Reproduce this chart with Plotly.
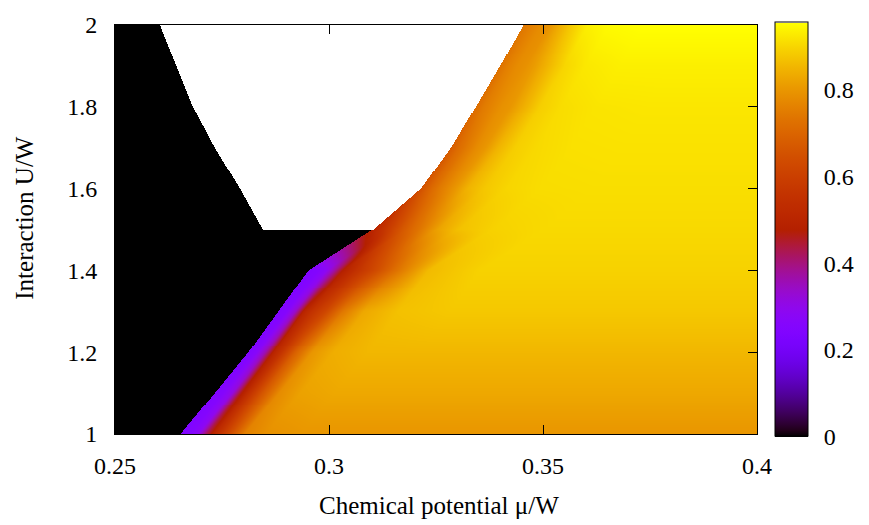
import numpy as np
import plotly.graph_objects as go

# Interaction strengths (U/W) at which the map is tabulated
U_ROWS = [1.0, 1.1, 1.2, 1.3, 1.4, 1.5, 1.6, 1.7, 1.8, 1.9, 2.0]
# Chemical potential where the conducting phase starts on each row
EDGE_MU = [0.2653, 0.2733, 0.2812, 0.2882, 0.2952, 0.3103,
           0.3215, 0.3285, 0.3343, 0.3400, 0.3455]
# Left border of the region without converged solutions (U/W > 1.5)
GAP_U = [1.5, 1.6, 1.7, 1.8, 1.9, 2.0]
GAP_LEFT_MU = [0.2846, 0.2792, 0.2733, 0.2682, 0.2643, 0.2605]
# Distance from the phase edge (in mu/W) at which each row's profile is given
OFFSET = [0.0, 0.002, 0.004, 0.006, 0.008, 0.011, 0.015, 0.020, 0.028, 0.040]
# Order parameter along each row, one list per U_ROWS entry
PROFILE = [
    [0.24, 0.25, 0.28, 0.42, 0.52, 0.62, 0.76, 0.79, 0.80, 0.80],    # U=1.0
    [0.24, 0.26, 0.31, 0.46, 0.55, 0.66, 0.78, 0.82, 0.83, 0.83],    # U=1.1
    [0.24, 0.27, 0.36, 0.50, 0.57, 0.69, 0.80, 0.84, 0.855, 0.855],  # U=1.2
    [0.24, 0.26, 0.34, 0.50, 0.56, 0.62, 0.74, 0.83, 0.87, 0.88],    # U=1.3
    [0.24, 0.25, 0.28, 0.37, 0.48, 0.55, 0.62, 0.72, 0.86, 0.895],   # U=1.4
    [0.50, 0.55, 0.60, 0.65, 0.69, 0.74, 0.82, 0.87, 0.895, 0.905],  # U=1.5
    [0.65, 0.70, 0.74, 0.77, 0.80, 0.85, 0.88, 0.90, 0.91, 0.912],   # U=1.6
    [0.68, 0.72, 0.75, 0.78, 0.80, 0.85, 0.89, 0.905, 0.915, 0.917], # U=1.7
    [0.72, 0.75, 0.77, 0.79, 0.80, 0.84, 0.89, 0.91, 0.92, 0.923],   # U=1.8
    [0.73, 0.76, 0.78, 0.79, 0.81, 0.85, 0.90, 0.925, 0.935, 0.935], # U=1.9
    [0.74, 0.76, 0.78, 0.79, 0.83, 0.88, 0.935, 0.95, 0.955, 0.955], # U=2.0
]
Z_MAX = 0.955

X_TICKS = [0.25, 0.30, 0.35, 0.40]
X_TICK_TEXT = ["0.25", "0.3", "0.35", "0.4"]
Y_TICKS = [1.0, 1.2, 1.4, 1.6, 1.8, 2.0]
Y_TICK_TEXT = ["1", "1.2", "1.4", "1.6", "1.8", "2"]
CB_TICKS = [0, 0.2, 0.4, 0.6, 0.8]
CB_TICK_TEXT = ["0", "0.2", "0.4", "0.6", "0.8"]

# --- render grid (pm3d-style interpolation between tabulated rows) ---
NX, NY = 642, 416
mu = 0.25 + (np.arange(NX) + 0.5) * 0.15 / NX
uu = 1.0 + (np.arange(NY) + 0.5) * 1.0 / NY
prof = np.array(PROFILE)
Z = np.zeros((NY, NX))
for j, u in enumerate(uu):
    edge = np.interp(u, U_ROWS, EDGE_MU)
    row_prof = [np.interp(u, U_ROWS, prof[:, k]) for k in range(prof.shape[1])]
    zrow = np.interp(mu - edge, OFFSET, row_prof)
    below = mu < edge
    zrow[below] = 0.0
    if u > 1.5:
        left = np.interp(u, GAP_U, GAP_LEFT_MU)
        zrow[below & (mu > left)] = np.nan
    Z[j] = zrow
Z = np.round(Z, 4).astype(np.float32)

# gnuplot default palette (rgbformulae 7,5,15)
def palette(n=64):
    stops = []
    for i in range(n + 1):
        g = i / n
        r = np.sqrt(g)
        gg = g ** 3
        b = max(0.0, np.sin(2 * np.pi * g))
        stops.append([g, "rgb(%d,%d,%d)" % (round(255 * r), round(255 * gg), round(255 * b))])
    return stops

FONT = "Liberation Serif, Times New Roman, serif"
FS = 24

# Colour-bar geometry in paper coordinates
CB_X0 = (775 - 115) / 642
CB_X1 = (808 - 115) / 642
CB_TICK = 7 / 642
cb_y0 = (434 - 433) / 416
cb_y1 = (434 - 19) / 416

fig = go.Figure(go.Heatmap(
    x=mu, y=uu, z=Z,
    zmin=0, zmax=Z_MAX,
    colorscale=palette(),
    hoverongaps=False,
    colorbar=dict(
        x=CB_X0, xanchor="left", xpad=0,
        y=0.5, yanchor="middle", ypad=0,
        thickness=33, lenmode="pixels", len=414,
        outlinecolor="black", outlinewidth=1,
        tickvals=CB_TICKS, ticktext=CB_TICK_TEXT,
        ticks="outside", ticklen=11, tickcolor="rgba(0,0,0,0)",
        tickfont=dict(family=FONT, size=FS, color="black"),
    ),
))

# Inward tick marks on both edges of the colour bar
for v in CB_TICKS[1:]:
    yv = cb_y0 + v / Z_MAX * (cb_y1 - cb_y0)
    for xa, xb in ((CB_X0, CB_X0 + CB_TICK), (CB_X1 - CB_TICK, CB_X1)):
        fig.add_shape(type="line", xref="paper", yref="paper",
                      x0=xa, x1=xb, y0=yv, y1=yv,
                      line=dict(color="black", width=1))

axis_common = dict(
    showline=True, linecolor="black", linewidth=1, mirror="allticks",
    ticks="inside", ticklen=9, tickcolor="black", tickwidth=1,
    showgrid=False, zeroline=False,
    tickfont=dict(family=FONT, size=FS, color="black"),
)
fig.update_xaxes(range=[0.25, 0.40], tickvals=X_TICKS, ticktext=X_TICK_TEXT,
                 ticklabelstandoff=10, **axis_common)
fig.update_yaxes(range=[1.0, 2.0], tickvals=Y_TICKS, ticktext=Y_TICK_TEXT,
                 ticklabelstandoff=12, **axis_common)

fig.add_annotation(text="Chemical potential μ/W", xref="paper", yref="paper",
                   x=0.505, y=(434 - 507) / 416, xanchor="center", yanchor="middle",
                   showarrow=False, font=dict(family=FONT, size=FS + 1, color="black"))
fig.add_annotation(text="Interaction U/W", xref="paper", yref="paper",
                   x=(25 - 115) / 642, y=(434 - 214) / 416, xanchor="center", yanchor="middle",
                   textangle=-90, showarrow=False,
                   font=dict(family=FONT, size=FS + 1, color="black"))

fig.update_layout(
    width=869, height=525,
    margin=dict(l=115, r=112, t=18, b=91),
    paper_bgcolor="white", plot_bgcolor="white",
    showlegend=False,
)
fig.write_html("out.html")
